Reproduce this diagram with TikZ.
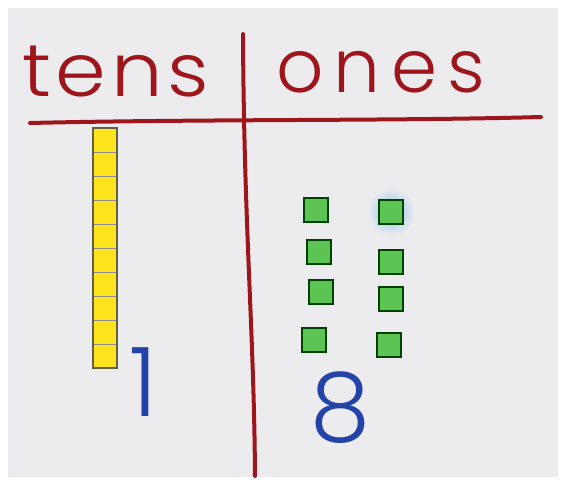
\documentclass[tikz,border=0pt]{standalone}
\usepackage{fontspec}
\newfontfamily\hand{Poppins}[UprightFont=* Light]
\definecolor{marker}{HTML}{9E161C}
\definecolor{pen}{HTML}{2343A8}
\definecolor{board}{HTML}{ECECEE}
\definecolor{rod}{HTML}{FFE31C}
\definecolor{cube}{HTML}{5CC452}
\definecolor{glow}{HTML}{8FC3F2}

\tikzset{
  ink/.style={draw=marker, line width=4pt, line cap=round, line join=round},
  word/.style={text=marker, font=\hand\fontsize{74}{74}\selectfont, inner sep=0pt},
  digit/.style={text=pen, font=\hand\fontsize{96}{96}\selectfont, inner sep=0pt},
  unit/.style={draw=black!75!green, fill=cube, line width=1.4pt}
}

\begin{document}
\begin{tikzpicture}[x=1pt, y=-1pt]
  % board
  \fill[white] (0,0) rectangle (566,485);
  \fill[board] (8,8) rectangle (558,477);
  \useasboundingbox (0,0) rectangle (566,485);

  % headings
  \node[word, anchor=base west] (tens) at (22,96) {\scalebox{1.1}[1]{\addfontfeature{LetterSpace=6}tens}};
  \node[word, anchor=base west] (ones) at (276,92) {\addfontfeature{LetterSpace=14}ones};

  % chart lines
  \coordinate (L) at (30,123);
  \coordinate (R) at (541,117);
  \coordinate (T) at (243,34);
  \coordinate (B) at (255,476);
  \draw[ink] (L) .. controls (200,119) and (400,121) .. (R);
  \draw[ink] (T) .. controls (244,230) and (254,330) .. (B);

  % tens rod
  \fill[rod] (93,128) rectangle (117,368);
  \foreach \k in {1,...,9}
    \draw[black!45, line width=0.6pt] (93,128+24*\k) -- (117,128+24*\k);
  \draw[black!70!yellow, line width=1.2pt] (93,128) rectangle (117,368);

  % ones cubes
  \shade[inner color=glow, outer color=board] (391,212) circle (24);
  \foreach \x/\y [count=\i] in {304/198, 307/240, 309/280, 302/328,
                                379/200, 379/250, 379/287, 377/333}
    \draw[unit] (\x,\y) rectangle +(24,24) coordinate (c\i);

  % digits
  \node[digit] (one) at (144,382) {1};
  \node[digit] (eight) at (340,408) {8};
\end{tikzpicture}
\end{document}
